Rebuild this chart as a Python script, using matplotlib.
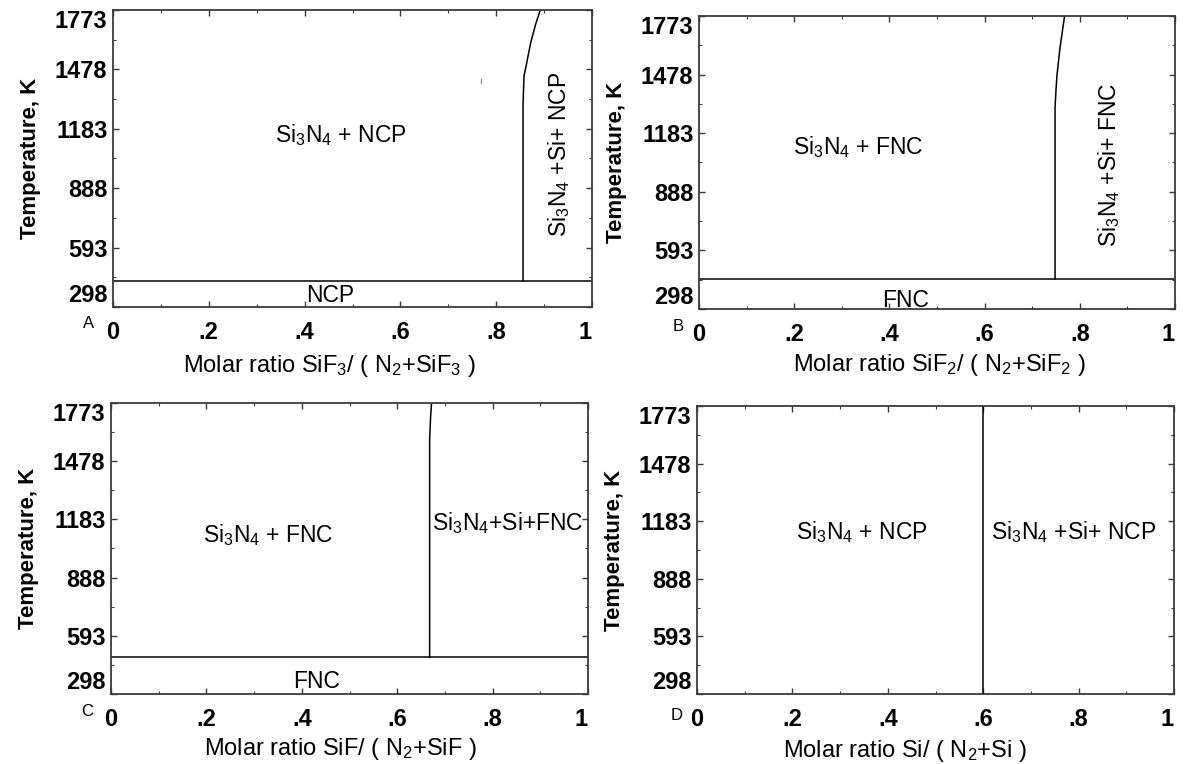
import matplotlib
matplotlib.use('Agg')
import matplotlib.pyplot as plt
from matplotlib.ticker import FixedLocator, MultipleLocator

plt.rcParams['font.family'] = ['Liberation Sans', 'DejaVu Sans']
plt.rcParams['mathtext.fontset'] = 'custom'
plt.rcParams['mathtext.rm'] = 'Liberation Sans'
plt.rcParams['mathtext.it'] = 'Liberation Sans'
plt.rcParams['mathtext.bf'] = 'Liberation Sans:bold'
plt.rcParams['mathtext.default'] = 'regular'

# ---------------- data ----------------
temp_ticks = [298, 593, 888, 1183, 1478, 1773]
temp_minor = [445.5, 740.5, 1035.5, 1330.5, 1625.5]
x_ticks = [0, 0.2, 0.4, 0.6, 0.8, 1.0]
x_tick_labels = ['0', '.2', '.4', '.6', '.8', '1']
panel_letters = ['A', 'B', 'C', 'D']

xlabels = [
    'Molar ratio SiF$_3$/ ( N$_2$+SiF$_3$ )',
    'Molar ratio SiF$_2$/ ( N$_2$+SiF$_2$ )',
    'Molar ratio SiF/ ( N$_2$+SiF )',
    'Molar ratio Si/ ( N$_2$+Si )',
]

# lower horizontal phase boundary (K); None = none
lower_T = [428, 449, 484, None]

# Si-appearance boundary for each panel
bnd_x_A = [0.856, 0.856, 0.858, 0.862, 0.872, 0.882, 0.892]
bnd_T_A = [428, 1300, 1445, 1490, 1610, 1700, 1773]
bnd_x_B = [0.748, 0.748, 0.750, 0.752, 0.758, 0.768]
bnd_T_B = [449, 1311, 1400, 1474, 1605, 1773]
bnd_x_C = [0.668, 0.668, 0.670, 0.672]
bnd_T_C = [484, 1590, 1700, 1773]
bnd_x_D = [0.600, 0.600]
bnd_T_D = [298, 1773]

# tiny stray mark in panel A
stray_x_A = [0.769, 0.769]
stray_T_A = [1412, 1428]

# region labels: (x, T, text, rotation)
labels_A = [(0.475, 1150, 'Si$_3$N$_4$ + NCP', 0),
            (0.453, 355, 'NCP', 0),
            (0.932, 1055, 'Si$_3$N$_4$ +Si+ NCP', 90)]
labels_B = [(0.335, 1112, 'Si$_3$N$_4$ + FNC', 0),
            (0.433, 343, 'FNC', 0),
            (0.862, 1025, 'Si$_3$N$_4$ +Si+ FNC', 90)]
labels_C = [(0.329, 1105, 'Si$_3$N$_4$ + FNC', 0),
            (0.430, 362, 'FNC', 0),
            (0.831, 1165, 'Si$_3$N$_4$+Si+FNC', 0)]
labels_D = [(0.345, 1128, 'Si$_3$N$_4$ + NCP', 0),
            (0.790, 1128, 'Si$_3$N$_4$ +Si+ NCP', 0)]

bnd_x = [bnd_x_A, bnd_x_B, bnd_x_C, bnd_x_D]
bnd_T = [bnd_T_A, bnd_T_B, bnd_T_C, bnd_T_D]
region_labels = [labels_A, labels_B, labels_C, labels_D]

# ---------------- layout ----------------
W, H = 1188, 764
boxes_px = [(113, 592, 10, 307), (699, 1175, 16, 309),
            (111, 588, 403, 694), (697, 1174, 406, 694)]
letter_pos = [(-0.052, -0.054), (-0.043, -0.060), (-0.050, -0.061), (-0.043, -0.073)]
xlabel_xpos = [0.451, 0.504, 0.48, 0.436]
xlabel_gap_px = [46, 43, 42, 44]

fig = plt.figure(figsize=(W / 100, H / 100), dpi=100)
fig.patch.set_facecolor('white')

spine_color = '#3a3a3a'
for i in range(4):
    l, r, t, b = boxes_px[i]
    ax = fig.add_axes([l / W, 1 - b / H, (r - l) / W, (b - t) / H])
    ax.set_xlim(0, 1)
    ax.set_ylim(298, 1773)

    if lower_T[i] is not None:
        ax.plot([0, 1], [lower_T[i], lower_T[i]], color='black', lw=1.1)
    ax.plot(bnd_x[i], bnd_T[i], color='black', lw=1.1)
    if i == 0:
        ax.plot(stray_x_A, stray_T_A, color='#888888', lw=0.8)

    for (x, T, s, rot) in region_labels[i]:
        ax.text(x, T, s, ha='center', va='center', rotation=rot, fontsize=16.5)

    ax.xaxis.set_major_locator(FixedLocator(x_ticks))
    ax.xaxis.set_minor_locator(MultipleLocator(0.1))
    ax.set_xticklabels(x_tick_labels)
    ax.yaxis.set_major_locator(FixedLocator(temp_ticks))
    ax.yaxis.set_minor_locator(FixedLocator(temp_minor))
    ax.set_yticklabels([str(v) for v in temp_ticks])

    ax.tick_params(axis='both', which='both', direction='in', top=True, right=True,
                   color=spine_color)
    ax.tick_params(axis='both', which='major', length=4, width=1.0, labelsize=17)
    ax.tick_params(axis='both', which='minor', length=2.5, width=0.8)
    ax.tick_params(axis='x', which='major', pad=10)
    ax.tick_params(axis='y', which='major', pad=4)
    for lab in ax.get_xticklabels() + ax.get_yticklabels():
        lab.set_fontweight('bold')
    # edge labels sit inside the axis range
    ylabs = ax.get_yticklabels()
    ylabs[0].set_va('bottom')
    ylabs[-1].set_va('top')
    xlabs = ax.get_xticklabels()
    xlabs[-1].set_ha('right')

    for sp in ax.spines.values():
        sp.set_color(spine_color)
        sp.set_linewidth(1.3)

    ax.set_ylabel('Temperature, K', fontsize=16, fontweight='bold', labelpad=10)
    ax.set_xlabel(xlabels[i], fontsize=17)
    ax.xaxis.set_label_coords(xlabel_xpos[i], -xlabel_gap_px[i] / (b - t))
    ax.text(letter_pos[i][0], letter_pos[i][1], panel_letters[i], transform=ax.transAxes,
            ha='center', va='center', fontsize=12)

fig.savefig('out.png', dpi=100, facecolor='white')
